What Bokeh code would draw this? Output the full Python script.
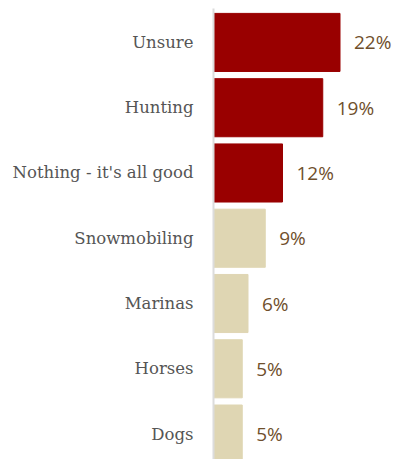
from bokeh.plotting import figure
from bokeh.models import ColumnDataSource, Range1d, FixedTicker
from bokeh.core.properties import value
from bokeh.embed import file_html
from bokeh.resources import INLINE

categories = ["Unsure", "Hunting", "Nothing - it's all good", "Snowmobiling", "Marinas", "Horses", "Dogs"]
values = [22, 19, 12, 9, 6, 5, 5]
highlighted = [True, True, True, False, False, False, False]

RED = "#990000"
BEIGE = "#dfd6b3"

pos = list(range(len(categories)))
src = ColumnDataSource(dict(
    y=pos,
    v=values,
    label=[f"{v}%" for v in values],
    color=[RED if h else BEIGE for h in highlighted],
))

p = figure(width=395, height=459, output_backend="svg", toolbar_location=None,
           x_range=Range1d(0, 31.65), y_range=Range1d(6.39, -0.52),
           min_border_left=213, min_border_right=0, min_border_top=8, min_border_bottom=0)

p.hbar(y="y", left=0, right="v", height=0.89, color="color", source=src)
p.text(x="v", y="y", text="label", source=src, x_offset=14,
       text_align="left", text_baseline="middle",
       text_font=value("Open Sans"), text_font_size="19px", text_color="#6f4f2c")

p.xaxis.visible = False
p.xgrid.visible = False
p.ygrid.visible = False
p.outline_line_color = None

ya = p.yaxis[0]
ya.ticker = FixedTicker(ticks=pos)
ya.major_label_overrides = {i: c for i, c in zip(pos, categories)}
ya.major_tick_line_color = None
ya.minor_tick_line_color = None
ya.major_tick_out = 0
ya.major_tick_in = 0
ya.major_label_standoff = 20
ya.axis_line_color = "#dcdcdc"
ya.axis_line_width = 2
ya.major_label_text_font = "DejaVu Serif"
ya.major_label_text_font_size = "16.5px"
ya.major_label_text_color = "#555555"
ya.major_label_text_font_style = "normal"

open("out.html", "w").write(file_html(p, INLINE))
